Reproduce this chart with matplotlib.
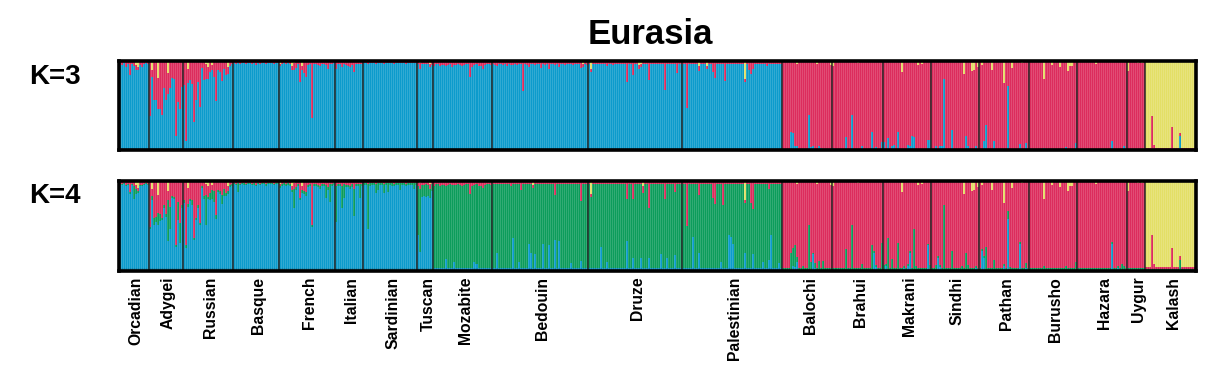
import numpy as np
import matplotlib
matplotlib.use("Agg")
import matplotlib.pyplot as plt
from matplotlib.transforms import blended_transform_factory

plt.rcParams['font.family'] = ['Liberation Sans', 'DejaVu Sans']

title = "Eurasia"
k_labels = ["K=3", "K=4"]

populations = ["Orcadian", "Adygei", "Russian", "Basque", "French", "Italian", "Sardinian",
               "Tuscan", "Mozabite", "Bedouin", "Druze", "Palestinian", "Balochi", "Brahui",
               "Makrani", "Sindhi", "Pathan", "Burusho", "Hazara", "Uygur", "Kalash"]
sizes = [15, 17, 25, 23, 28, 14, 27, 8, 29, 48, 47, 50, 25, 25, 24, 24, 25, 24, 25, 9, 25]

# ---------------- K=3 : ancestry percentages per individual ----------------
# (a population missing from a component's table takes the remainder)
k3_blue = {
    "Balochi": [1,1,1,1,21, 19,5,5,1,1, 1,1,1,40,4, 5,1,1,5,3, 1,1,1,1,1],
    "Brahui": [3,1,1,1,1, 1,15,1,1,40, 1,1,1,1,5, 1,1,1,1,20, 3,4,1,1,9],
    "Makrani": [9,1,14,1,5, 6,1,21,1,1, 1,1,6,5,16, 15,1,1,1,1, 1,1,12,12],
    "Sindhi": [1,1,5,1,5, 5,79,1,1,1, 23,1,1,1,1, 1,1,16,5,1, 1,1,5,1],
    "Pathan": [1,1,10,28,1, 1,1,11,1,1, 1,1,1,1,72, 1,1,1,1,1, 7,1,1,8,1],
    "Burusho": [1,1,1,1,1, 1,1,3,1,1, 1,1,1,1,1, 1,1,1,4,1, 1,1,1,8],
    "Hazara": [1,1,1,1,1, 1,1,1,1,1, 1,1,1,1,1, 1,1,11,1,1, 1,1,1,5,3],
    "Uygur": [1,1,1,1,1, 1,1,1,1],
    "Kalash": [1,1,1,1,1, 1,1,1,1,1, 1,1,1,1,1, 1,1,16,1,1, 1,1,1,1,1],
}
k3_red = {
    "Orcadian": [3,4,2,5,3, 15,3,4,5,4, 3,6,3,2,3],
    "Adygei": [60,8,42,42,35, 52,59,28,42,23, 29,17,18,82,44, 52,27],
    "Russian": [25,88,16,20,24, 66,42,22,50,7, 20,16,14,11,6, 16,43,9,11,22, 7,14,8,5,3],
    "Basque": [2,3,2,3,2, 2,3,2,2,3, 2,4,2,3,2, 2,3,2,2,2, 3,2,2],
    "French": [2,3,2,3,2, 3,4,8,6,3, 22,5,12,17,4, 3,63,3,3,4, 5,3,3,4,8, 3,3,2],
    "Italian": [8,3,3,6,3, 3,5,6,4,12, 3,3,3,3],
    "Sardinian": [2,2,3,2,2, 2,3,2,2,2, 3,2,2,2,2, 3,2,2,2,2, 2,3,2,2,2, 2,2],
    "Tuscan": [3,6,3,3,3, 3,3,4],
    "Mozabite": [4,3,3,5,3, 4,5,4,3,6, 4,3,3,4,5, 4,3,3,17,6, 4,3,4,5,8, 4,3,3,4],
    "Bedouin": [3,4,5,3,3, 4,3,5,3,4, 3,3,4,3,3, 33,3,4,6,3, 3,4,3,3,7, 3,4,3,8,3,
                3,4,3,6,3, 3,4,3,3,3, 4,3,3,3,7, 3,3,4],
    "Druze": [3,4,3,3,3, 3,3,3,3,5, 3,3,4,3,3, 3,3,3,3,23, 3,3,15,3,3, 4,3,3,3,3,
              21,3,3,3,3, 3,3,3,32,3, 3,3,3,3,13, 3,3],
    "Palestinian": [3,3,52,3,3, 3,3,3,6,3, 3,3,3,3,3, 12,18,3,3,3, 3,22,3,3,3,
                    3,3,3,3,3, 3,3,3,10,14, 8,3,3,3,3, 3,3,5,3,3, 3,3,3,3,3],
    "Kalash": [2,2,2,37,5, 2,2,2,2,2, 2,2,2,25,2, 2,2,3,2,2, 2,2,2,2,2],
}
k3_yellow = {
    "Orcadian": [1,1,1,2,1, 1,1,2,5,7, 2,1,1,1,1],
    "Adygei": [2,10,2,2,19, 2,2,2,2,14, 2,2,2,2,2, 2,2],
    "Russian": [2,2,9,2,2, 2,2,2,2,1, 2,4,7,2,5, 2,2,2,2,1, 2,2,7,1,1],
    "Basque": [1,1,1,1,1, 1,1,1,1,1, 1,1,1,1,1, 1,1,1,1,1, 1,1,1],
    "French": [4,1,1,1,1, 1,6,3,2,1, 2,6,2,1,1, 1,1,1,1,1, 1,1,1,1,1, 1,1,1],
    "Italian": [1,1,1,1,1, 2,1,1,1,1, 1,1,1,1],
    "Sardinian": [1,1,1,1,1, 1,1,1,1,1, 1,1,1,1,1, 1,1,1,1,1, 1,1,1,1,1, 1,1],
    "Tuscan": [1,3,1,1,1, 1,4,1],
    "Mozabite": [2,1,1,1,2, 1,1,1,1,1, 1,2,1,1,1, 1,1,1,1,1, 1,1,2,1,1, 1,1,1,1],
    "Bedouin": [1,1,1,1,1, 1,1,1,1,1, 2,1,1,1,1, 1,1,1,1,1, 1,1,1,1,1, 1,1,1,1,1,
                1,1,1,1,1, 1,1,1,1,1, 1,1,1,1,1, 4,1,1],
    "Druze": [1,9,1,1,1, 1,1,1,1,1, 1,1,1,1,1, 1,1,1,1,1, 1,1,1,1,1, 5,4,1,1,1,
              1,1,1,1,1, 1,1,1,1,1, 1,1,1,1,1, 1,1],
    "Palestinian": [1,1,1,1,1, 1,1,1,6,1, 1,1,6,1,1, 1,1,1,1,1, 1,1,1,1,1,
                    1,1,1,1,1, 1,21,1,1,1, 1,1,1,1,1, 1,1,1,1,1, 1,1,1,1,1],
    "Balochi": [2,2,2,2,2, 2,2,4,2,2, 2,2,2,2,2, 2,2,4,2,2, 2,2,2,2,5],
    "Brahui": [6,2,2,2,2, 2,2,2,2,2, 2,2,3,2,2, 2,2,2,2,2, 2,2,2,2,2],
    "Makrani": [2,2,2,2,2, 2,2,2,2,13, 2,2,2,2,2, 2,2,5,2,4, 2,2,2,2],
    "Sindhi": [2,2,2,2,2, 2,2,2,2,2, 2,2,2,2,2, 2,15,2,2,2, 12,11,2,7],
    "Pathan": [2,5,2,2,2, 2,10,2,2,2, 2,2,25,2,2, 2,8,2,2,2, 2,3,2,2,2],
    "Burusho": [2,2,2,2,2, 2,2,21,2,2, 2,5,2,2,2, 7,2,2,2,12, 6,6,2,2],
    "Hazara": [2,2,2,2,2, 2,2,2,2,4, 2,2,2,2,2, 2,2,2,2,2, 2,2,2,2,2],
    "Uygur": [12,2,2,2,2, 3,2,3,2],
}

# ---------------- K=4 : ancestry percentages per individual ----------------
k4_blue = {
    "Mozabite": [3,3,3,3,3, 3,13,3,3,3, 10,3,3,3,3, 3,3,3,3,3, 10,7,3,3,3, 3,3,3,3],
    "Bedouin": [3,3,19,3,3, 3,3,3,3,3, 36,3,3,9,3, 3,3,3,29,19, 3,18,3,3,3, 29,3,3,28,3,
                3,34,3,33,3, 3,3,3,3,8, 3,3,3,3,11, 3,3,3],
    "Druze": [3,3,3,3,3, 3,26,3,3,9, 3,3,3,3,3, 3,3,3,3,33, 3,3,14,3,3, 3,14,3,3,3,
              14,3,3,3,3, 3,18,3,3,14, 3,3,3,17,3, 3,3],
    "Palestinian": [3,3,3,3,3, 37,3,3,20,3, 3,3,3,3,3, 3,3,3,3,9, 3,3,3,40,37,
                    29,3,3,3,3, 3,19,3,3,3, 18,3,3,3,3, 9,3,3,12,40, 3,3,3,8,3],
    "Balochi": [1,1,1,1,1, 5,4,10,1,1, 1,1,1,1,1, 18,3,1,1,1, 1,1,1,1,1],
    "Brahui": [1,1,1,1,1, 1,1,1,1,1, 1,1,1,1,1, 1,1,1,1,1, 20,4,1,1,1],
    "Makrani": [1,5,1,1,1, 1,1,1,1,1, 3,1,5,20,1, 1,1,1,1,1, 1,1,28,1],
    "Sindhi": [1,1,1,14,4, 1,1,1,1,1, 1,1,1,1,1, 1,1,1,1,1, 1,1,3,1],
    "Pathan": [1,22,14,1,1, 1,1,1,1,1, 1,1,5,1,57, 1,1,1,1,1, 30,1,1,3,1],
    "Burusho": [1,1,1,1,1, 1,1,1,1,1, 1,1,1,1,1, 1,1,1,1,1, 1,1,1,1],
    "Hazara": [1,1,1,1,1, 1,1,1,1,1, 1,1,1,1,1, 1,1,30,1,1, 3,1,1,1,1],
    "Uygur": [1,1,1,1,1, 1,1,1,1],
    "Kalash": [1,1,1,1,1, 1,1,1,1,1, 1,1,1,1,1, 1,1,2,1,1, 1,1,1,1,1],
}
k4_green = {
    "Orcadian": [1,1,1,1,1, 2,1,14,6,2, 1,1,1,1,1],
    "Adygei": [2,5,7,6,13, 8,2,3,3,45, 25,2,3,2,20, 22,3],
    "Russian": [3,3,3,3,5, 2,2,3,2,2, 3,33,3,8,10, 12,5,3,3,10, 8,3,3,2,2],
    "Basque": [1,1,10,1,1, 2,1,1,1,1, 2,1,1,1,1, 1,2,1,1,1, 1,1,1],
    "French": [2,2,2,2,2, 2,3,22,3,2, 3,3,3,4,2, 2,3,2,2,2, 3,2,2,14,4, 20,2,2],
    "Italian": [40,2,2,25,15, 2,2,3,3,30, 2,2,15,2],
    "Sardinian": [2,2,50,3,2, 2,10,8,2,2, 10,2,10,2,3, 2,2,2,8,2, 2,2,2,2,2, 6,2],
    "Tuscan": [55,70,13,12,14, 12,10,8],
    "Balochi": [2,2,2,2,18, 20,24,5,2,2, 4,2,2,50,8, 2,5,2,10,2, 10,2,2,2,2],
    "Brahui": [2,2,2,2,2, 2,23,2,2,50, 2,2,2,2,6, 2,2,2,2,27, 2,2,2,2,30],
    "Makrani": [5,2,35,2,12, 2,2,30,2,2, 2,2,2,2,2, 45,4,2,2,2, 2,2,2,5],
    "Sindhi": [2,2,5,2,2, 2,72,2,2,2, 21,2,2,2,2, 4,2,18,5,2, 2,2,2,2],
    "Pathan": [2,2,2,25,2, 2,2,11,2,2, 2,2,2,2,9, 3,2,2,2,2, 2,2,2,5,2],
    "Burusho": [2,2,2,2,2, 2,2,4,2,2, 2,2,2,2,2, 2,2,2,4,2, 2,2,2,9],
    "Hazara": [2,2,2,2,2, 2,2,2,2,2, 2,2,2,2,2, 2,2,2,2,2, 2,2,6,4,2],
    "Uygur": [2,2,2,2,2, 2,2,2,2],
    "Kalash": [1,1,1,1,1, 1,1,1,1,1, 1,1,1,1,1, 1,1,10,1,1, 1,1,1,1,1],
}
k4_red = {
    "Orcadian": [3,3,2,4,3, 12,3,5,4,4, 3,4,3,2,3],
    "Adygei": [50,8,40,38,20, 35,40,25,35,10, 27,15,16,70,22, 45,25],
    "Russian": [20,70,18,18,20, 62,40,25,45,5, 15,12,12,12,5, 10,36,8,10,15, 7,12,6,4,3],
    "Basque": [2,3,2,3,2, 2,3,2,2,3, 2,4,2,3,2, 2,3,2,2,2, 3,2,2],
    "French": [2,3,2,3,2, 3,4,6,5,3, 17,5,10,12,4, 3,48,3,3,4, 5,3,3,4,6, 3,3,2],
    "Italian": [5,3,3,5,3, 3,4,5,3,8, 3,3,3,3],
    "Sardinian": [2,2,3,2,2, 2,3,2,2,2, 3,2,2,2,2, 3,2,2,2,2, 2,3,2,2,2, 2,2],
    "Tuscan": [5,6,4,4,3, 4,5,3],
    "Mozabite": [4,3,3,5,3, 4,5,4,3,4, 4,3,3,4,5, 4,3,3,14,5, 4,3,4,5,7, 4,3,3,4],
    "Bedouin": [3,3,3,3,3, 3,3,3,3,5, 3,3,3,3,9, 3,3,3,3,3, 3,3,3,3,3, 3,3,3,3,3,
                3,15,3,3,3, 3,3,3,3,3, 3,3,3,3,22, 3,3,3],
    "Druze": [3,3,3,3,3, 3,3,3,3,3, 3,3,3,3,3, 3,3,3,3,20, 3,3,20,3,3, 3,3,8,3,3,
              30,3,3,3,3, 3,3,3,20,3, 3,3,3,12,3, 3,3],
    "Palestinian": [3,3,49,3,3, 3,3,3,15,3, 3,3,3,3,3, 18,25,3,3,3, 26,3,3,3,3,
                    3,3,3,3,3, 3,3,3,3,24, 31,3,3,3,3, 3,3,3,8,3, 3,3,3,3,3],
    "Kalash": [2,2,2,37,5, 2,2,2,2,2, 2,2,2,23,2, 2,2,4,2,2, 2,2,2,2,2],
}
k4_yellow = {
    "Orcadian": [1,1,1,1,1, 1,1,1,5,8, 2,1,1,1,1],
    "Adygei": [2,9,2,2,16, 2,2,2,2,12, 2,2,2,2,2, 2,2],
    "Russian": [2,2,8,2,2, 2,2,2,2,1, 2,4,6,2,5, 2,2,2,2,1, 2,2,6,1,1],
    "Basque": [1,1,1,1,1, 1,1,1,1,1, 1,1,1,1,1, 1,1,1,1,1, 1,1,1],
    "French": [4,1,1,1,1, 1,6,3,2,1, 2,6,2,1,1, 1,1,1,1,1, 1,1,1,1,1, 1,1,1],
    "Italian": [1,1,1,1,1, 2,1,1,1,1, 1,1,1,1],
    "Sardinian": [1,1,1,1,1, 1,1,1,1,1, 1,1,1,1,1, 1,1,1,1,1, 1,1,1,1,1, 1,1],
    "Tuscan": [1,3,1,1,1, 1,4,1],
    "Mozabite": [2,1,1,1,2, 1,1,1,1,1, 1,2,1,1,1, 1,1,1,1,1, 1,1,2,1,1, 1,1,1,1],
    "Bedouin": [1,1,1,1,1, 1,1,1,1,1, 1,1,1,1,1, 1,1,1,1,1, 5,1,1,1,1, 1,1,1,1,1,
                1,1,1,1,1, 1,1,1,1,1, 1,1,1,1,1, 1,1,1],
    "Druze": [1,15,1,1,1, 1,1,1,1,1, 1,1,1,1,1, 1,1,1,1,1, 1,1,1,1,1, 1,1,6,1,1,
              1,1,1,1,1, 1,1,1,1,1, 1,1,1,1,1, 1,1],
    "Palestinian": [1,1,1,1,1, 1,1,1,1,1, 1,1,1,1,1, 1,1,1,1,1, 1,1,1,1,1,
                    1,1,1,1,1, 1,22,1,1,1, 1,1,1,1,1, 1,1,1,1,1, 1,1,1,1,1],
    "Balochi": [2,2,2,2,2, 2,2,4,2,2, 2,2,2,2,2, 2,2,4,2,2, 2,2,2,2,5],
    "Brahui": [6,2,2,2,2, 2,2,2,2,2, 2,2,3,2,2, 2,2,2,2,2, 2,2,2,2,2],
    "Makrani": [2,2,2,2,2, 2,2,2,2,13, 2,2,2,2,2, 2,2,5,2,4, 2,2,2,2],
    "Sindhi": [2,2,2,2,2, 2,2,2,2,2, 2,2,2,2,2, 2,15,2,2,2, 12,11,2,7],
    "Pathan": [2,5,2,2,2, 2,10,2,2,2, 2,2,25,2,2, 2,8,2,2,2, 2,3,2,2,2],
    "Burusho": [2,2,2,2,2, 2,2,21,2,2, 2,5,2,2,2, 7,2,2,2,12, 6,6,2,2],
    "Hazara": [2,2,2,2,2, 2,2,2,2,4, 2,2,2,2,2, 2,2,2,2,2, 2,2,2,2,2],
    "Uygur": [12,2,2,2,2, 3,2,3,2],
}

colors = {"blue": "#0c9bcc", "green": "#0c9c5b", "red": "#dc2c5d", "yellow": "#e3df66"}


def build(tables, names):
    """Return array (n_components, n_individuals) of fractions."""
    cols = []
    for pop, n in zip(populations, sizes):
        block = np.zeros((len(names), n))
        missing = None
        for ci, tab in enumerate(tables):
            if pop in tab:
                vals = np.asarray(tab[pop], dtype=float)
                assert len(vals) == n, (pop, names[ci], len(vals), n)
                block[ci] = vals
            else:
                missing = ci
        if missing is not None:
            block[missing] = np.clip(100 - block.sum(axis=0), 0, None)
        block = block / block.sum(axis=0)
        cols.append(block)
    return np.concatenate(cols, axis=1)


k3 = build([k3_blue, k3_red, k3_yellow], ["blue", "red", "yellow"])
k4 = build([k4_blue, k4_green, k4_red, k4_yellow], ["blue", "green", "red", "yellow"])

W, H = 1228, 387
fig = plt.figure(figsize=(W / 100, H / 100), dpi=100)

left = 118.5 / W
width = (1195.5 - 118.5) / W
ax1 = fig.add_axes([left, 1 - 150.5 / H, width, 90 / H])
ax2 = fig.add_axes([left, 1 - 270.5 / H, width, 90 / H])

total = sum(sizes)
x = np.arange(total)
bounds = np.cumsum([0] + sizes)

for ax, data, names in [(ax1, k3, ["blue", "red", "yellow"]),
                        (ax2, k4, ["blue", "green", "red", "yellow"])]:
    bottom = np.zeros(total)
    for ci, nm in enumerate(names):
        ax.bar(x, data[ci], width=1.0, bottom=bottom, align="edge",
               color=colors[nm], linewidth=0)
        bottom += data[ci]
    # individual stripes
    ax.vlines(x[1:], 0, 1, colors="white", alpha=0.22, linewidth=0.5)
    ax.axhspan(0, 0.03, color="black", alpha=0.10, linewidth=0)
    # population separators
    ax.vlines(bounds[1:-1], 0, 1, colors="#262626", linewidth=1.1)
    ax.set_xlim(0, total)
    ax.set_ylim(0, 1)
    ax.set_xticks([])
    ax.set_yticks([])
    for sp in ax.spines.values():
        sp.set_linewidth(2.6)
        sp.set_color("black")

trans = blended_transform_factory(ax2.transData, ax2.transAxes)
centers = (bounds[:-1] + bounds[1:]) / 2
for pop, c in zip(populations, centers):
    ax2.text(c + 1.3, -0.07, pop, transform=trans, rotation=90, ha="center", va="top",
             fontsize=11.3, fontweight="bold")

fig.text(650 / W, 1 - 34 / H, title, ha="center", va="center", fontsize=25, fontweight="bold")
fig.text(29 / W, 1 - 76.5 / H, k_labels[0], ha="left", va="center", fontsize=20, fontweight="bold")
fig.text(29 / W, 1 - 195.5 / H, k_labels[1], ha="left", va="center", fontsize=20, fontweight="bold")

fig.savefig("out.png", dpi=100)
